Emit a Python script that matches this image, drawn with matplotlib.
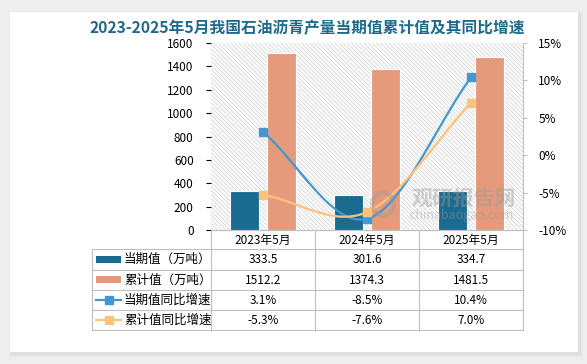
import numpy as np
import matplotlib
matplotlib.use('Agg')
import matplotlib.pyplot as plt
from matplotlib.patches import Rectangle, Circle
from matplotlib.lines import Line2D

plt.rcParams['font.family'] = ['Noto Sans CJK SC', 'DejaVu Sans']
plt.rcParams['hatch.linewidth'] = 0.6
plt.rcParams['hatch.color'] = '#d4d4d4'

# data
title = '2023-2025年5月我国石油沥青产量当期值累计值及其同比增速'
categories = ['2023年5月', '2024年5月', '2025年5月']
current_vals = [333.5, 301.6, 334.7]
cumulative_vals = [1512.2, 1374.3, 1481.5]
current_yoy = [3.1, -8.5, 10.4]
cumulative_yoy = [-5.3, -7.6, 7.0]
series_names = ['当期值（万吨）', '累计值（万吨）', '当期值同比增速', '累计值同比增速']

C_CUR = '#1b6a8f'
C_CUM = '#e49a7b'
C_CUR_YOY = '#4597d2'
C_CUM_YOY = '#fec27a'
GRID = '#c0c0c0'

W, H = 587, 364
PL, PR, PT, PB = 211, 523, 43, 230   # plot box in pixels


def smooth(xs, ys, n=40):
    # catmull-rom style smoothing like excel's smoothed line
    xs = np.asarray(xs, float)
    ys = np.asarray(ys, float)
    px_ = np.concatenate([[2 * xs[0] - xs[1]], xs, [2 * xs[-1] - xs[-2]]])
    py_ = np.concatenate([[2 * ys[0] - ys[1]], ys, [2 * ys[-1] - ys[-2]]])
    ox, oy = [], []
    for i in range(1, len(px_) - 2):
        t = np.linspace(0, 1, n)
        p0, p1, p2, p3 = [np.array([px_[j], py_[j]]) for j in range(i - 1, i + 3)]
        c1 = p1 + (p2 - p0) / 6
        c2 = p2 - (p3 - p1) / 6
        b = ((1 - t) ** 3)[:, None] * p1 + (3 * (1 - t) ** 2 * t)[:, None] * c1 \
            + (3 * (1 - t) * t ** 2)[:, None] * c2 + (t ** 3)[:, None] * p2
        ox.extend(b[:, 0])
        oy.extend(b[:, 1])
    return ox, oy


fig = plt.figure(figsize=(W / 100, H / 100), dpi=100, facecolor='#eeeeee')

# background card in pixel coords
bg = fig.add_axes([0, 0, 1, 1])
bg.set_xlim(0, W)
bg.set_ylim(H, 0)
bg.axis('off')
for k, a in enumerate([0.05, 0.05, 0.06]):
    d = 3 - k
    bg.add_patch(Rectangle((10 - d + 2, 12 - d + 2), 568 + 2 * d, 340 + 2 * d,
                           facecolor='#999999', alpha=a, edgecolor='none'))
bg.add_patch(Rectangle((10, 12), 568, 340, facecolor='white', edgecolor='none'))

# main axes
ax = fig.add_axes([PL / W, 1 - PB / H, (PR - PL) / W, (PB - PT) / H])
ax.patch.set_facecolor('white')
ax.add_patch(Rectangle((0, 0), 1, 1, transform=ax.transAxes, facecolor='white',
                       edgecolor='#d4d4d4', hatch='\\' * 8, lw=0, zorder=0.5))
x = np.arange(len(categories))
bw = 0.28
off = 0.178
ax.bar(x - off, current_vals, bw, color=C_CUR, edgecolor='white', lw=0.8, zorder=2)
ax.bar(x + off, cumulative_vals, bw, color=C_CUM, edgecolor='white', lw=0.8, zorder=2)
ax.set_xlim(-0.5, len(categories) - 0.5)
ax.set_ylim(0, 1600)
ax.set_yticks(np.arange(0, 1601, 200))
ax.tick_params(axis='y', left=False, pad=9, labelsize=8.5)
ax.tick_params(axis='x', bottom=False, labelbottom=False)
for s in ['top', 'left', 'right']:
    ax.spines[s].set_visible(False)
ax.spines['bottom'].set_color(GRID)
ax.spines['bottom'].set_linewidth(0.8)

ax2 = ax.twinx()
lx, ly = smooth(x, current_yoy)
ax2.plot(lx, ly, color=C_CUR_YOY, lw=1.6, zorder=3)
ax2.plot(x, current_yoy, ls='none', marker='s', ms=6, color=C_CUR_YOY, zorder=4)
lx, ly = smooth(x, cumulative_yoy)
ax2.plot(lx, ly, color=C_CUM_YOY, lw=1.6, zorder=3)
ax2.plot(x, cumulative_yoy, ls='none', marker='s', ms=6, color=C_CUM_YOY, zorder=4)
ax2.set_ylim(-10, 15)
ax2.set_yticks(np.arange(-10, 16, 5))
ax2.set_yticklabels([f'{v}%' for v in range(-10, 16, 5)])
ax2.tick_params(axis='y', right=True, length=3, color=GRID, pad=8, labelsize=8.5)
for s in ['top', 'left', 'bottom']:
    ax2.spines[s].set_visible(False)
ax2.spines['right'].set_color(GRID)
ax2.spines['right'].set_linewidth(0.8)

# data table below the plot
TL = 92
rows = [PB, 249, 269.5, 290, 310, 330]
colw = (PR - PL) / len(categories)
cols = [PL + i * colw for i in range(len(categories) + 1)]
lk = dict(color=GRID, lw=0.8)
bg.plot([PL, PR], [rows[0], rows[0]], **lk)
for y in rows[1:]:
    bg.plot([TL, PR], [y, y], **lk)
bg.plot([TL, TL], [rows[1], rows[-1]], **lk)
for c in cols:
    bg.plot([c, c], [rows[0], rows[-1]], **lk)

for i, cat in enumerate(categories):
    cx = (cols[i] + cols[i + 1]) / 2
    bg.text(cx, (rows[0] + rows[1]) / 2 + 0.5, cat, ha='center', va='center', fontsize=8.5)

table_vals = [
    [f'{v:.1f}' for v in current_vals],
    [f'{v:.1f}' for v in cumulative_vals],
    [f'{v:.1f}%' for v in current_yoy],
    [f'{v:.1f}%' for v in cumulative_yoy],
]
colors = [C_CUR, C_CUM, C_CUR_YOY, C_CUM_YOY]
for r in range(4):
    cy = (rows[r + 1] + rows[r + 2]) / 2
    for i in range(len(categories)):
        cx = (cols[i] + cols[i + 1]) / 2
        bg.text(cx, cy + 0.5, table_vals[r][i], ha='center', va='center', fontsize=8.5)
    if r < 2:
        bg.add_patch(Rectangle((96, cy - 3.5), 25, 7, facecolor=colors[r], edgecolor='none'))
    else:
        bg.add_line(Line2D([96, 121], [cy, cy], color=colors[r], lw=1.6))
        bg.add_line(Line2D([108.5], [cy], color=colors[r], marker='s', ms=5.5))
    bg.text(124, cy + 0.5, series_names[r], ha='left', va='center', fontsize=9)

# title
fig.text(307 / W, 1 - 28 / H, title, ha='center', va='center', fontsize=11.3,
         fontweight='bold', color='#1f6a8b')

# watermark
fig.text(464 / W, 1 - 198 / H, '观研报告网', ha='center', va='center', fontsize=15,
         fontweight='bold', color='#9a9a9a', alpha=0.45, zorder=6)
fig.text(462 / W, 1 - 216 / H, 'chinabaogao.com', ha='center', va='center', fontsize=9,
         color='#9a9a9a', alpha=0.45, zorder=6)
logo = Circle((383, 204), 11, transform=bg.transData, facecolor='none',
              edgecolor='#9a9a9a', lw=3, alpha=0.4, zorder=6)
fig.add_artist(logo)

fig.savefig('out.png', dpi=100, facecolor=fig.get_facecolor())
